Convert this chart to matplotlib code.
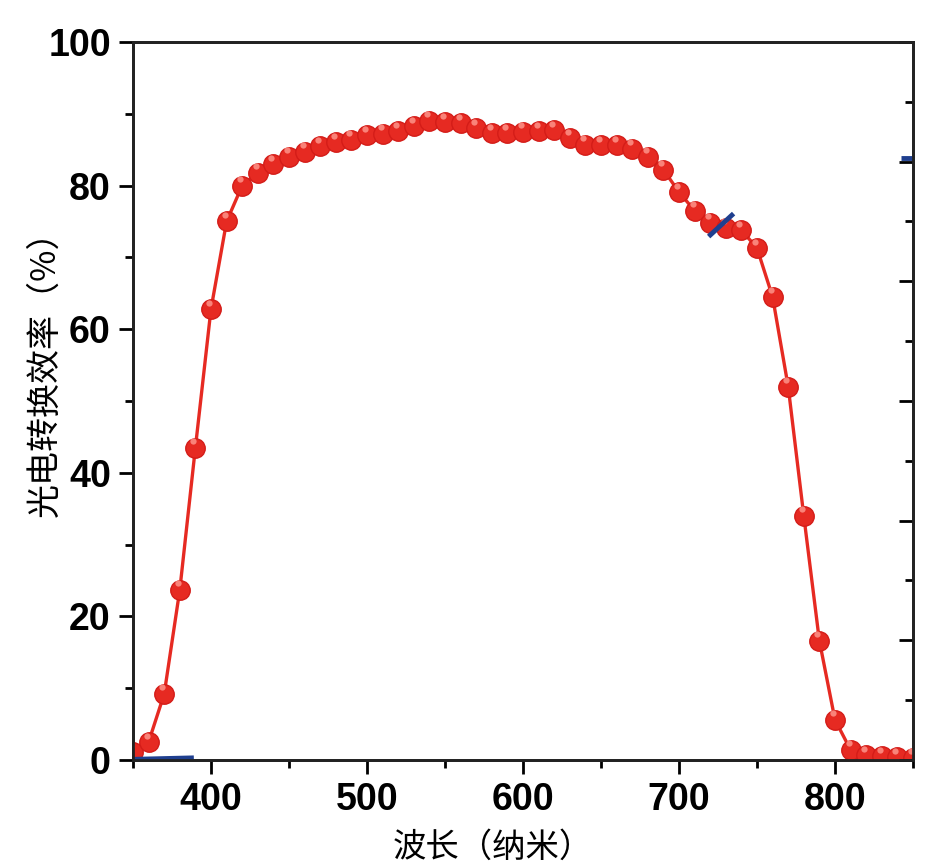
import matplotlib

matplotlib.use("Agg")
from matplotlib import pyplot as plt
from matplotlib.ticker import MultipleLocator
import numpy as np

plt.rcParams["font.family"] = ["Liberation Sans Narrow", "Liberation Sans", "DejaVu Sans"]

# EQE curve (every 10 nm)
wavelength = np.arange(350, 851, 10)
eqe = [1.1, 2.5, 9.2, 23.7, 43.5, 62.8, 75.0, 80.0, 81.8, 83.0,
       84.0, 84.7, 85.5, 86.0, 86.4, 87.0, 87.2, 87.6, 88.3, 89.0,
       88.8, 88.7, 88.0, 87.3, 87.3, 87.5, 87.6, 87.7, 86.6, 85.7,
       85.6, 85.6, 85.1, 84.0, 82.2, 79.1, 76.5, 74.8, 74.1, 73.8,
       71.3, 64.5, 52.0, 34.0, 16.6, 5.6, 1.4, 0.7, 0.5, 0.4, 0.3]

# stray blue strokes left in the source image
blue_segments = [
    ([351, 389], [0.1, 0.3]),
    ([719, 735], [72.9, 76.1]),
    ([842, 850], [83.8, 83.8]),
]

red = "#e62a22"
cjk = ["Noto Sans CJK SC", "DejaVu Sans"]

fig = plt.figure(figsize=(9.32, 8.67), dpi=100)
ax = fig.add_axes([0.1427, 0.1234, 0.8369, 0.8282])

ax.plot(wavelength, eqe, color=red, lw=2.4, zorder=3)
ax.plot(wavelength, eqe, "o", ms=14, color=red, mec="#d41c18", mew=1, zorder=4)
# small highlight on each sphere
ax.plot(wavelength - 1.3, np.array(eqe) + 0.9, "o", ms=4.5, color="#ff9a90",
        mew=0, alpha=0.8, zorder=5)

for xs, ys in blue_segments:
    ax.plot(xs, ys, color="#1f3f8f", lw=3.5, solid_capstyle="butt", zorder=6)

ax.set_xlim(350, 850)
ax.set_ylim(0, 100)
ax.xaxis.set_major_locator(MultipleLocator(100))
ax.xaxis.set_minor_locator(MultipleLocator(50))
ax.yaxis.set_major_locator(MultipleLocator(20))
ax.yaxis.set_minor_locator(MultipleLocator(10))
ax.tick_params(which="major", direction="out", length=10, width=2,
               labelsize=27, pad=6, top=False, right=False)
ax.tick_params(which="minor", direction="out", length=6, width=2,
               top=False, right=False)
for lab in ax.get_xticklabels() + ax.get_yticklabels():
    lab.set_fontweight("bold")
for s in ax.spines.values():
    s.set_linewidth(2)
    s.set_color("#222222")

# right axis: ticks only, no labels
ax2 = ax.twinx()
ax2.set_ylim(0, 6)
ax2.yaxis.set_major_locator(MultipleLocator(1))
ax2.yaxis.set_minor_locator(MultipleLocator(0.5))
ax2.tick_params(which="major", direction="in", length=10, width=2, labelright=False)
ax2.tick_params(which="minor", direction="in", length=6, width=2)
for s in ax2.spines.values():
    s.set_linewidth(2)
    s.set_color("#222222")

ax.set_ylabel("光电转换效率（%）", family=cjk, fontsize=24.5)
ax.set_xlabel("波长（纳米）", family=cjk, fontsize=24)
ax.yaxis.set_label_coords(-0.09, 0.55)
ax.xaxis.set_label_coords(0.4615, -0.097)

fig.savefig("out.png", dpi=100)
